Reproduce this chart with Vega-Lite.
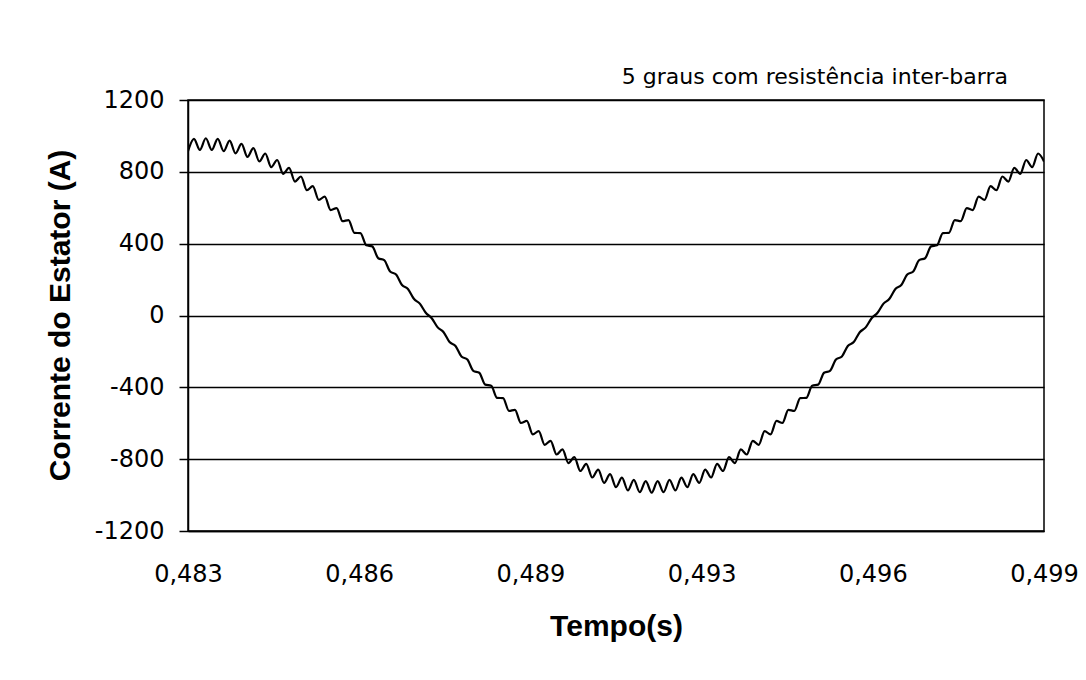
{
  "$schema": "https://vega.github.io/schema/vega-lite/v6.json",
  "width": 856,
  "height": 431,
  "autosize": {"type": "none"},
  "padding": {"left": 188, "top": 100, "right": 42, "bottom": 149},
  "background": "white",
  "config": {
    "font": "DejaVu Sans",
    "view": {"stroke": "black", "strokeWidth": 1.5}
  },
  "title": {
    "text": "5 graus com resistência inter-barra",
    "anchor": "end",
    "frame": "group",
    "orient": "top",
    "baseline": "alphabetic",
    "offset": 15,
    "dx": -36,
    "dy": 33,
    "fontSize": 22,
    "fontWeight": "normal",
    "font": "DejaVu Sans",
    "color": "black"
  },
  "data": {
    "values": [
      {"t": 0.483, "i": 915}, {"t": 0.483111, "i": 984}, {"t": 0.483222, "i": 922}, {"t": 0.483333, "i": 987},
      {"t": 0.483444, "i": 922}, {"t": 0.483556, "i": 984}, {"t": 0.483667, "i": 915}, {"t": 0.483778, "i": 974},
      {"t": 0.483889, "i": 903}, {"t": 0.484, "i": 956}, {"t": 0.484111, "i": 883}, {"t": 0.484222, "i": 932},
      {"t": 0.484333, "i": 858}, {"t": 0.484444, "i": 902}, {"t": 0.484556, "i": 826}, {"t": 0.484667, "i": 866},
      {"t": 0.484778, "i": 789}, {"t": 0.484889, "i": 822}, {"t": 0.485, "i": 746}, {"t": 0.485111, "i": 774},
      {"t": 0.485222, "i": 698}, {"t": 0.485333, "i": 720}, {"t": 0.485444, "i": 644}, {"t": 0.485556, "i": 662},
      {"t": 0.485667, "i": 587}, {"t": 0.485778, "i": 598}, {"t": 0.485889, "i": 525}, {"t": 0.486, "i": 531},
      {"t": 0.486111, "i": 460}, {"t": 0.486222, "i": 459}, {"t": 0.486333, "i": 391}, {"t": 0.486444, "i": 385},
      {"t": 0.486556, "i": 319}, {"t": 0.486667, "i": 308}, {"t": 0.486778, "i": 245}, {"t": 0.486889, "i": 228},
      {"t": 0.487, "i": 170}, {"t": 0.487111, "i": 148}, {"t": 0.487222, "i": 93}, {"t": 0.487333, "i": 66},
      {"t": 0.487444, "i": 15}, {"t": 0.487556, "i": -15}, {"t": 0.487667, "i": -66}, {"t": 0.487778, "i": -93},
      {"t": 0.487889, "i": -148}, {"t": 0.488, "i": -170}, {"t": 0.488111, "i": -228}, {"t": 0.488222, "i": -245},
      {"t": 0.488333, "i": -308}, {"t": 0.488444, "i": -319}, {"t": 0.488556, "i": -385}, {"t": 0.488667, "i": -391},
      {"t": 0.488778, "i": -459}, {"t": 0.488889, "i": -460}, {"t": 0.489, "i": -531}, {"t": 0.489111, "i": -525},
      {"t": 0.489222, "i": -598}, {"t": 0.489333, "i": -587}, {"t": 0.489444, "i": -662}, {"t": 0.489556, "i": -644},
      {"t": 0.489667, "i": -720}, {"t": 0.489778, "i": -698}, {"t": 0.489889, "i": -774}, {"t": 0.49, "i": -746},
      {"t": 0.490111, "i": -822}, {"t": 0.490222, "i": -789}, {"t": 0.490333, "i": -866}, {"t": 0.490444, "i": -826},
      {"t": 0.490556, "i": -902}, {"t": 0.490667, "i": -858}, {"t": 0.490778, "i": -932}, {"t": 0.490889, "i": -883},
      {"t": 0.491, "i": -956}, {"t": 0.491111, "i": -903}, {"t": 0.491222, "i": -974}, {"t": 0.491333, "i": -915},
      {"t": 0.491444, "i": -984}, {"t": 0.491556, "i": -922}, {"t": 0.491667, "i": -987}, {"t": 0.491778, "i": -922},
      {"t": 0.491889, "i": -984}, {"t": 0.492, "i": -915}, {"t": 0.492111, "i": -974}, {"t": 0.492222, "i": -903},
      {"t": 0.492333, "i": -956}, {"t": 0.492444, "i": -883}, {"t": 0.492556, "i": -932}, {"t": 0.492667, "i": -858},
      {"t": 0.492778, "i": -902}, {"t": 0.492889, "i": -826}, {"t": 0.493, "i": -866}, {"t": 0.493111, "i": -789},
      {"t": 0.493222, "i": -822}, {"t": 0.493333, "i": -746}, {"t": 0.493444, "i": -774}, {"t": 0.493556, "i": -698},
      {"t": 0.493667, "i": -720}, {"t": 0.493778, "i": -644}, {"t": 0.493889, "i": -662}, {"t": 0.494, "i": -587},
      {"t": 0.494111, "i": -598}, {"t": 0.494222, "i": -525}, {"t": 0.494333, "i": -531}, {"t": 0.494444, "i": -460},
      {"t": 0.494556, "i": -459}, {"t": 0.494667, "i": -391}, {"t": 0.494778, "i": -385}, {"t": 0.494889, "i": -319},
      {"t": 0.495, "i": -308}, {"t": 0.495111, "i": -245}, {"t": 0.495222, "i": -228}, {"t": 0.495333, "i": -170},
      {"t": 0.495444, "i": -148}, {"t": 0.495556, "i": -93}, {"t": 0.495667, "i": -66}, {"t": 0.495778, "i": -15},
      {"t": 0.495889, "i": 15}, {"t": 0.496, "i": 66}, {"t": 0.496111, "i": 93}, {"t": 0.496222, "i": 148},
      {"t": 0.496333, "i": 170}, {"t": 0.496444, "i": 228}, {"t": 0.496556, "i": 245}, {"t": 0.496667, "i": 308},
      {"t": 0.496778, "i": 319}, {"t": 0.496889, "i": 385}, {"t": 0.497, "i": 391}, {"t": 0.497111, "i": 459},
      {"t": 0.497222, "i": 460}, {"t": 0.497333, "i": 531}, {"t": 0.497444, "i": 525}, {"t": 0.497556, "i": 598},
      {"t": 0.497667, "i": 587}, {"t": 0.497778, "i": 662}, {"t": 0.497889, "i": 644}, {"t": 0.498, "i": 720},
      {"t": 0.498111, "i": 698}, {"t": 0.498222, "i": 774}, {"t": 0.498333, "i": 746}, {"t": 0.498444, "i": 822},
      {"t": 0.498556, "i": 789}, {"t": 0.498667, "i": 866}, {"t": 0.498778, "i": 826}, {"t": 0.498889, "i": 902},
      {"t": 0.499, "i": 858}
    ]
  },
  "mark": {"type": "line", "color": "black", "strokeWidth": 2.2, "interpolate": "monotone", "clip": true},
  "encoding": {
    "x": {
      "field": "t",
      "type": "quantitative",
      "scale": {"domain": [0.483, 0.499], "nice": false, "zero": false},
      "axis": {
        "title": "Tempo(s)",
        "values": [0.483, 0.4862, 0.4894, 0.4926, 0.4958, 0.499],
        "labelExpr": "replace(format(datum.value, '.3f'), '.', ',')",
        "grid": false,
        "ticks": false,
        "domain": true,
        "domainColor": "black",
        "domainWidth": 1.5,
        "labelFont": "DejaVu Sans",
        "labelFontSize": 24,
        "labelColor": "black",
        "labelPadding": 31,
        "labelFlush": false,
        "titleFont": "Liberation Sans",
        "titleFontSize": 30,
        "titleFontWeight": "bold",
        "titleColor": "black",
        "titleX": 428,
        "titleY": 95,
        "titleBaseline": "middle",
        "titleAlign": "center"
      }
    },
    "y": {
      "field": "i",
      "type": "quantitative",
      "scale": {"domain": [-1200, 1200], "nice": false},
      "axis": {
        "title": "Corrente do Estator (A)",
        "values": [-1200, -800, -400, 0, 400, 800, 1200],
        "labelExpr": "datum.value < 0 ? '-' + abs(datum.value) : '' + datum.value",
        "grid": true,
        "gridColor": "black",
        "gridWidth": 1.5,
        "gridOpacity": 1,
        "ticks": true,
        "tickSize": 9,
        "tickColor": "black",
        "tickWidth": 1.5,
        "domain": true,
        "domainColor": "black",
        "domainWidth": 1.5,
        "labelFont": "DejaVu Sans",
        "labelFontSize": 24,
        "labelColor": "black",
        "labelPadding": 15,
        "labelFlush": false,
        "titleFont": "Liberation Sans",
        "titleFontSize": 30,
        "titleFontWeight": "bold",
        "titleColor": "black",
        "titleAngle": -90,
        "titleX": -128,
        "titleY": 215,
        "titleBaseline": "middle",
        "titleAlign": "center"
      }
    }
  }
}
